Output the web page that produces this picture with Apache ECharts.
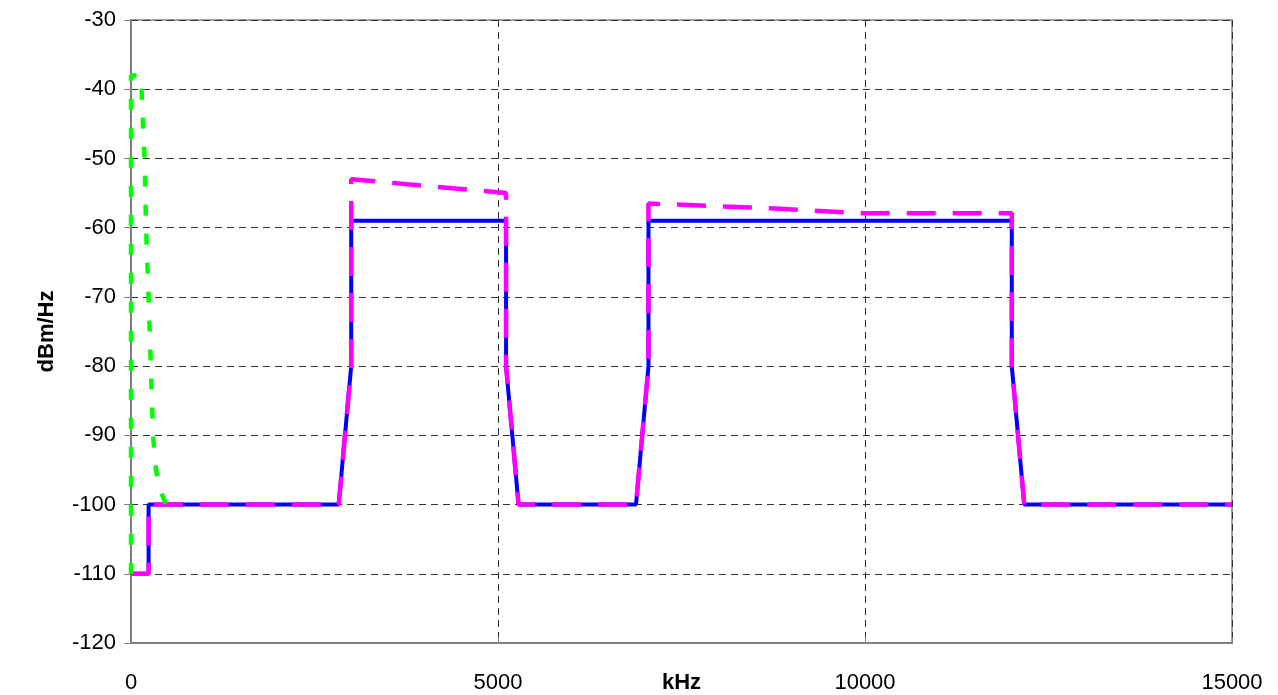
<!DOCTYPE html>
<html>
<head>
<meta charset="utf-8">
<script src="https://cdn.jsdelivr.net/npm/echarts@6/dist/echarts.min.js"></script>
<style>
html,body{margin:0;padding:0;background:#fff;}
#c{width:1278px;height:695px;}
</style>
</head>
<body>
<div id="c"></div>
<script>
// Data (kHz, dBm/Hz)
const xTicks = [0, 5000, 10000, 15000];
const yTicks = [-120, -110, -100, -90, -80, -70, -60, -50, -40, -30];

const blueFreq = [0, 240, 240, 2830, 3000, 3000, 5110, 5110, 5280, 6880, 7050, 7050, 12000, 12000, 12170, 15000];
const blueLevel = [-110, -110, -100, -100, -80, -59, -59, -80, -100, -100, -80, -59, -59, -80, -100, -100];

const magentaFreq = [0, 240, 240, 2830, 3000, 3000, 5110, 5110, 5280, 6880, 7050, 7050, 8700, 9900, 12000, 12000, 12170, 15000];
const magentaLevel = [-110, -110, -100, -100, -80, -53, -55, -80, -100, -100, -80, -56.5, -57.2, -57.9, -57.9, -80, -100, -100];

const greenFreq = [0, 0, 140, 150, 185, 205, 240, 270, 300, 340, 400, 480];
const greenLevel = [-110, -38, -38, -42, -50, -60, -70, -80, -90, -95, -98, -100];

function pairs(xs, ys) { return xs.map((x, i) => [x, ys[i]]); }

const FONT = '"Liberation Sans", Arial, sans-serif';
const chart = echarts.init(document.getElementById('c'), null, {renderer: 'canvas'});
chart.setOption({
  animation: false,
  backgroundColor: '#ffffff',
  grid: {left: 131, right: 46, top: 20, bottom: 52, containLabel: false, outerBoundsMode: 'none',
    show: true, borderColor: '#808080', borderWidth: 1.5, backgroundColor: 'transparent'},
  xAxis: {
    type: 'value', min: xTicks[0], max: xTicks[xTicks.length - 1], interval: 5000,
    name: 'kHz', nameLocation: 'middle', nameGap: 29, nameMoveOverlap: false,
    nameTextStyle: {fontFamily: FONT, fontSize: 22, fontWeight: 'bold', color: '#000'},
    axisLine: {show: true, lineStyle: {color: '#808080', width: 2}},
    axisTick: {show: true, inside: true, length: 6, lineStyle: {color: '#808080'}},
    axisLabel: {margin: 29, fontFamily: FONT, fontSize: 22, color: '#000',
      formatter: v => xTicks.includes(v) ? String(v) : ''},
    splitLine: {show: true, lineStyle: {color: '#333', width: 1, type: [7, 5]}}
  },
  yAxis: {
    type: 'value', min: yTicks[0], max: yTicks[yTicks.length - 1], interval: 10,
    name: 'dBm/Hz', nameLocation: 'middle', nameGap: 73, nameMoveOverlap: false,
    nameTextStyle: {fontFamily: FONT, fontSize: 22, fontWeight: 'bold', color: '#000'},
    axisLine: {show: true, lineStyle: {color: '#808080', width: 2}},
    axisTick: {show: true, inside: false, length: 7, lineStyle: {color: '#808080'}},
    axisLabel: {margin: 15, fontFamily: FONT, fontSize: 22, color: '#000'},
    splitLine: {show: true, lineStyle: {color: '#333', width: 1, type: [7, 5]}}
  },
  series: [
    {type: 'line', data: pairs(blueFreq, blueLevel), showSymbol: false, symbol: 'none',
      lineStyle: {color: '#0000ff', width: 4}, z: 2},
    {type: 'line', data: pairs(magentaFreq, magentaLevel), showSymbol: false, symbol: 'none',
      lineStyle: {color: '#ff00ff', width: 4.5, type: [29, 17]}, z: 3},
    {type: 'line', data: pairs(greenFreq, greenLevel), showSymbol: false, symbol: 'none',
      lineStyle: {color: '#00ff00', width: 4.5, type: [11, 18]}, z: 4}
  ]
});
</script>
</body>
</html>
